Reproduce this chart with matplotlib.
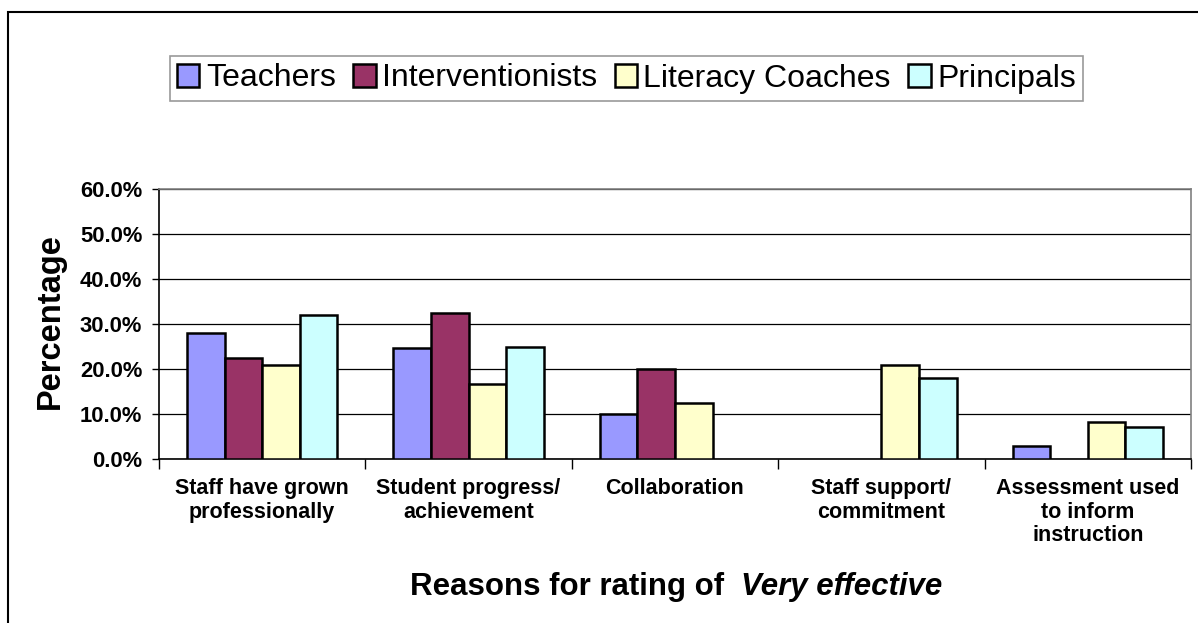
import matplotlib
matplotlib.use("Agg")
import matplotlib.pyplot as plt
import numpy as np
from matplotlib.patches import Rectangle

plt.rcParams['font.family'] = ['Liberation Sans', 'DejaVu Sans']

categories = ["Staff have grown\nprofessionally", "Student progress/\nachievement",
              "Collaboration", "Staff support/\ncommitment",
              "Assessment used\nto inform\ninstruction"]
groups = ["Teachers", "Interventionists", "Literacy Coaches", "Principals"]
teachers = [28.0, 24.7, 10.1, 0.0, 2.8]
interventionists = [22.5, 32.5, 20.0, 0.0, 0.0]
literacy_coaches = [20.8, 16.7, 12.5, 20.8, 8.3]
principals = [32.1, 25.0, 0.0, 17.9, 7.1]
colors = ["#9999FF", "#993366", "#FFFFCC", "#CCFFFF"]

W, H = 1198, 623
fig = plt.figure(figsize=(W / 100, H / 100), dpi=100)
ax = fig.add_axes([159 / W, 1 - 459 / H, (1191 - 159) / W, (459 - 189) / H])

series = [teachers, interventionists, literacy_coaches, principals]
x = np.arange(len(categories)) + 0.5
bw = 0.182
for i, (vals, name, c) in enumerate(zip(series, groups, colors)):
    vals = np.array(vals)
    bars = ax.bar(x + (i - 1.5) * bw, vals, bw, color=c, edgecolor="black",
                  linewidth=1.8, label=name, zorder=3)
    # empty categories: no outline along the baseline
    for b, v in zip(bars, vals):
        if v == 0:
            b.set_linewidth(0)

ax.set_xlim(0, 5)
ax.set_ylim(0, 60)
ax.set_yticks(np.arange(0, 61, 10))
ax.set_yticklabels([f"{v:.1f}%" for v in range(0, 61, 10)],
                   fontsize=15.8, fontweight="bold")
ax.tick_params(axis="y", length=5, width=1, pad=7)
ax.yaxis.grid(True, color="black", linewidth=0.9, zorder=0)

# group boundaries get the tick marks, labels sit at group centres
ax.set_xticks(np.arange(0, 6))
ax.set_xticklabels([])
ax.tick_params(axis="x", which="major", length=7, width=1)
ax.set_xticks(x, minor=True)
ax.set_xticklabels(categories, minor=True, fontsize=15.5, fontweight="bold",
                   linespacing=1.13)
ax.tick_params(axis="x", which="minor", length=0, pad=14)

for s in ["left", "bottom"]:
    ax.spines[s].set_linewidth(1.2)
for s in ["top", "right"]:
    ax.spines[s].set_color("#808080")
    ax.spines[s].set_linewidth(1.2)

fig.text(50 / W, 1 - 321 / H, "Percentage", rotation=90, ha="center",
         va="center", fontsize=23.5, fontweight="bold")

t1 = fig.text(410 / W, 1 - 587 / H, "Reasons for rating of  ", ha="left",
              va="center", fontsize=22.5, fontweight="bold")
ax.annotate("Very effective", xy=(1, 0), xycoords=t1, ha="left", va="bottom",
            fontsize=22.5, fontweight="bold", fontstyle="italic",
            annotation_clip=False)

leg = fig.legend(loc="center", bbox_to_anchor=(626.5 / W, 1 - 78.5 / H),
                 ncol=4, fontsize=23, frameon=True, fancybox=False,
                 handlelength=0.7, handleheight=0.7, handletextpad=0.2,
                 columnspacing=0.55, borderpad=0.22, borderaxespad=0)
leg.get_frame().set_edgecolor("#808080")
leg.get_frame().set_linewidth(1.2)

fig.patches.append(Rectangle((8 / W, -0.1), 1.2, 1.1 - 12 / H, fill=False,
                             edgecolor="black", linewidth=1.5,
                             transform=fig.transFigure))

fig.savefig("out.png", dpi=100)
